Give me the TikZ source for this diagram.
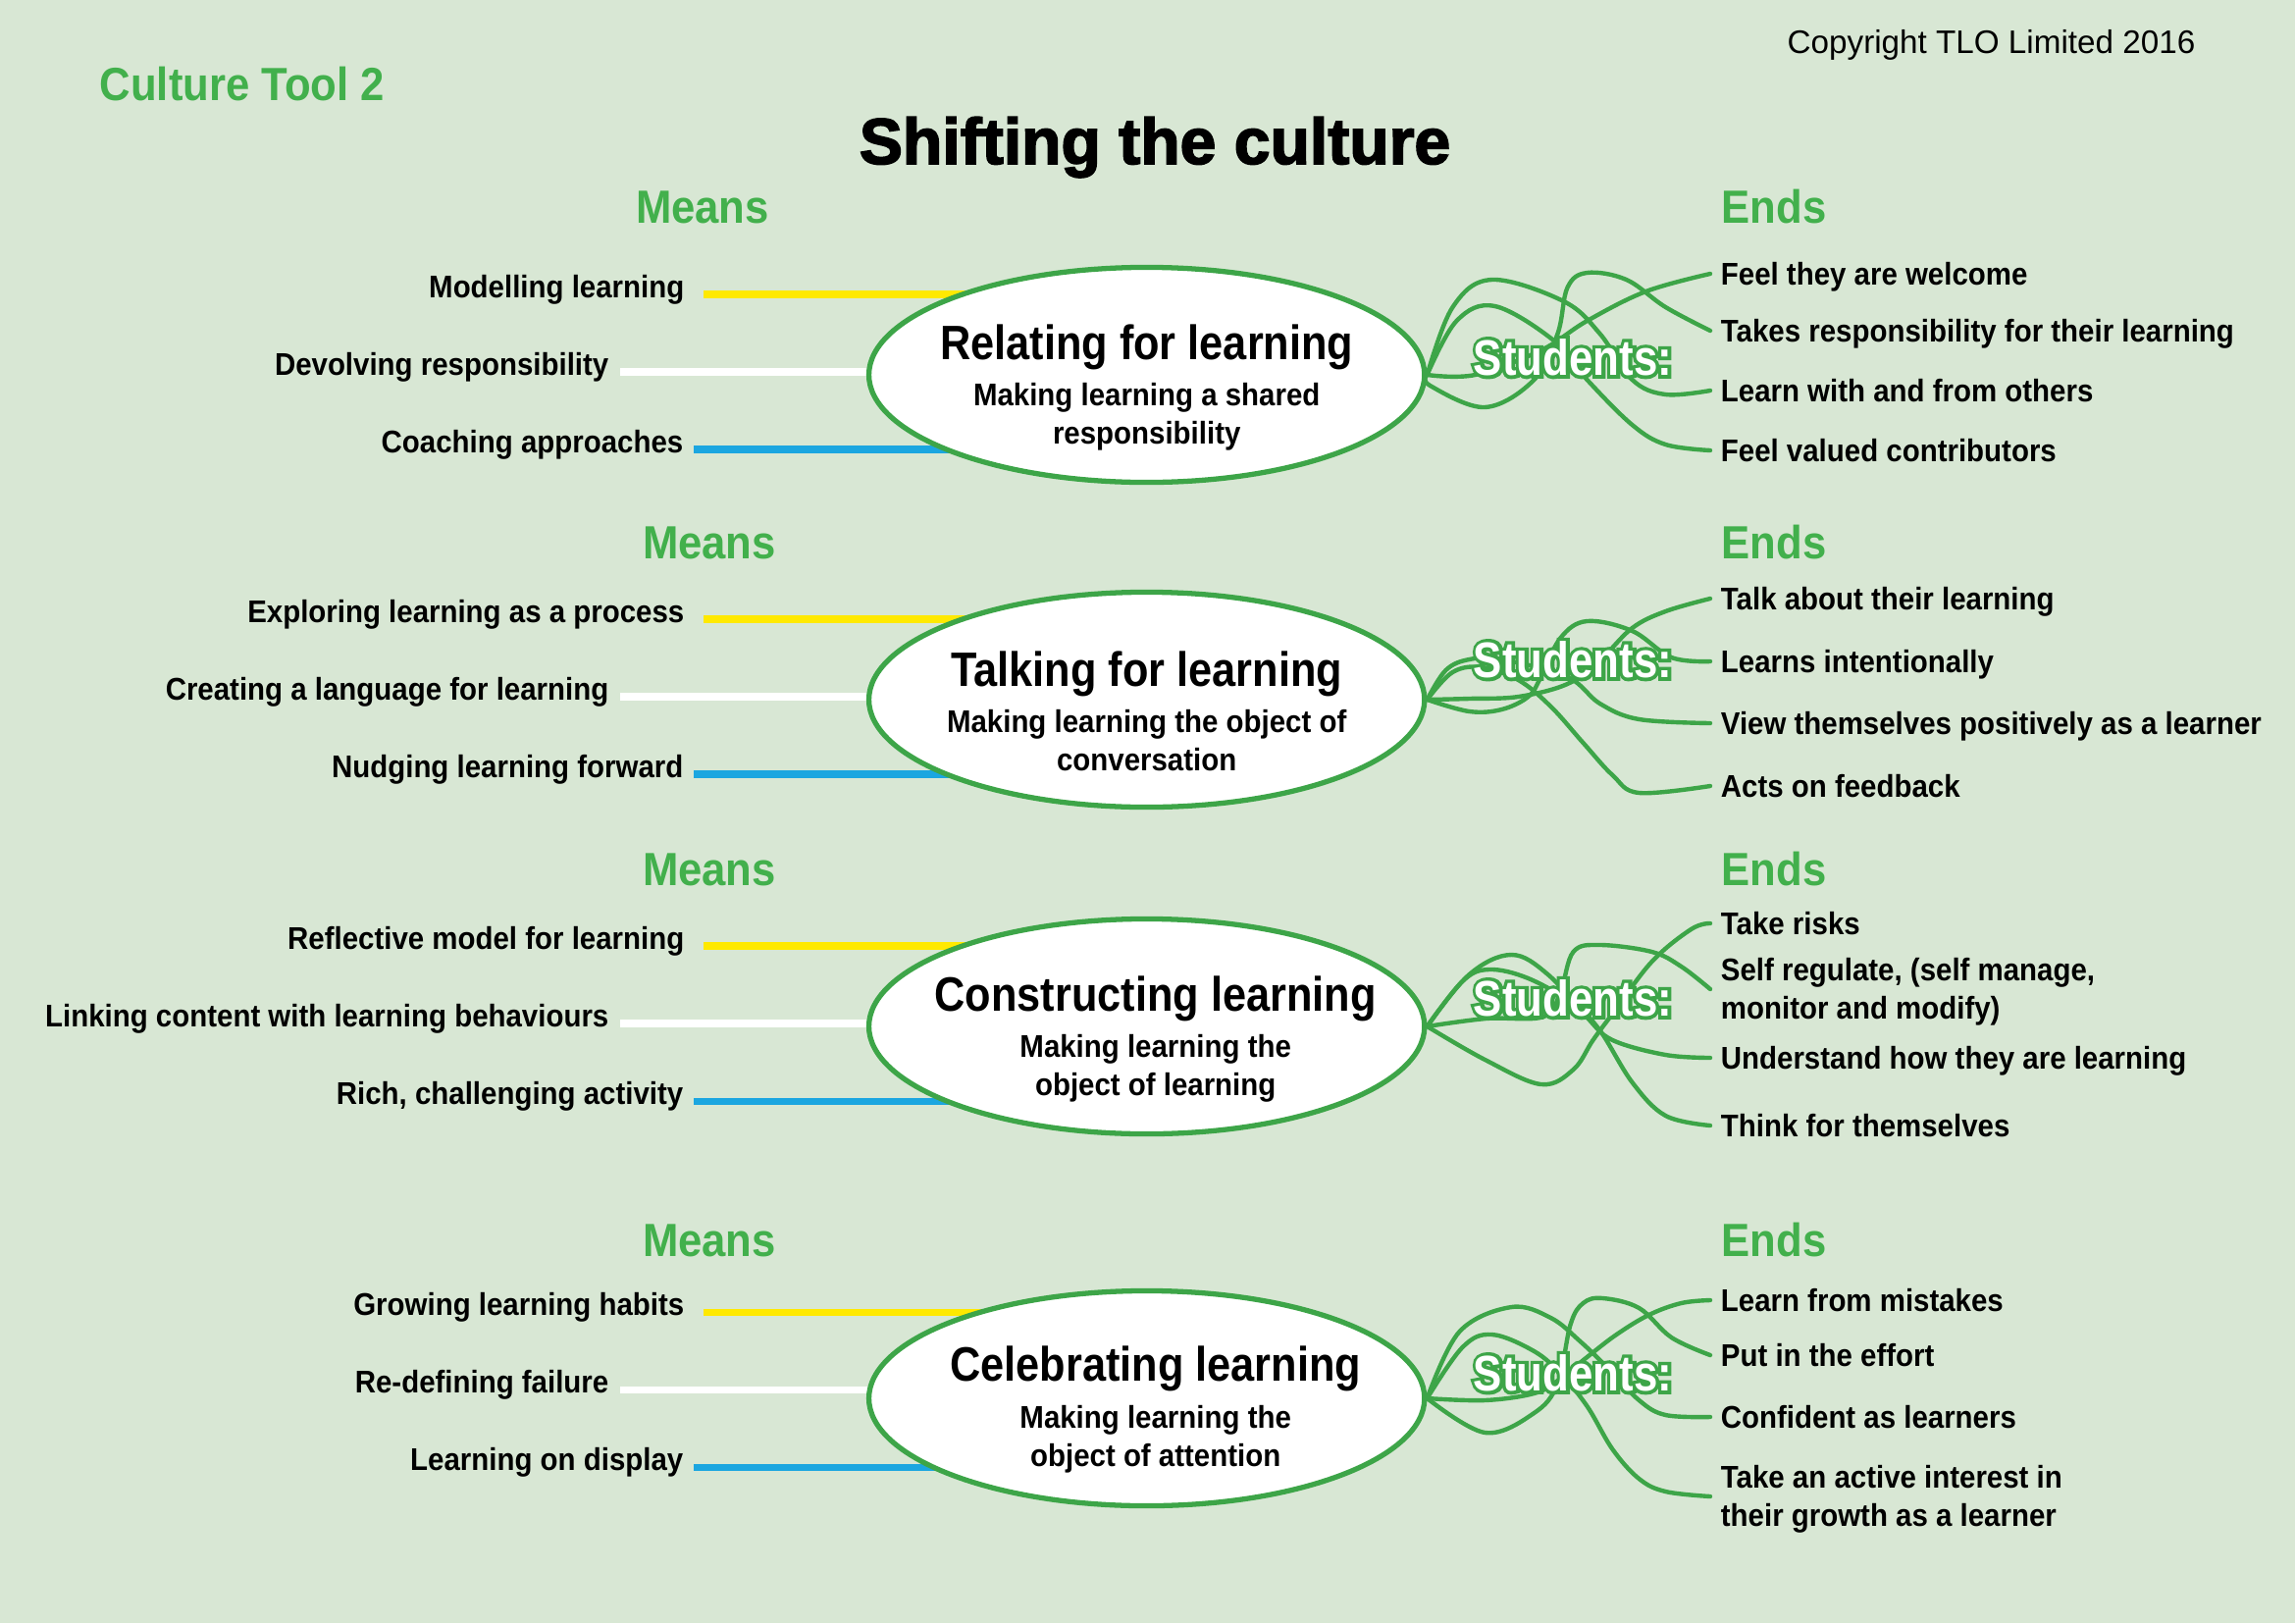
\documentclass[tikz,border=0pt]{standalone}
\usepackage{fontspec}
\setmainfont{Liberation Sans}
\newfontfamily\cnd{Liberation Sans}[FakeStretch=0.92]
\newfontfamily\cndb{Liberation Sans}[FakeStretch=0.88]
\newfontfamily\ttl{Liberation Sans Bold}[FakeBold=2.5]
\newfontfamily\studA{Liberation Sans Bold}[FakeStretch=0.86]
\newfontfamily\studB{Liberation Sans Bold}[FakeStretch=0.86, FakeBold=14]
\usetikzlibrary{shapes.geometric,calc}
\pgfdeclarelayer{back}
\pgfsetlayers{back,main}
\definecolor{bg}{HTML}{D8E7D4}
\definecolor{tgreen}{HTML}{3DA548}
\definecolor{hgreen}{HTML}{42B04C}
\definecolor{ylw}{HTML}{FFE900}
\definecolor{blu}{HTML}{1BA6E0}
\tikzset{
  lbl/.style={inner sep=0pt, font=\cnd\bfseries\fontsize{9.1}{11.1}\selectfont, text height=6.5pt, text depth=0pt},
  twoline/.style={text height=17.6pt},
  meansitem/.style={lbl, anchor=base east},
  enditem/.style={lbl, anchor=west, align=left, outer xsep=3.1pt},
  head/.style={inner sep=0pt, anchor=base, font=\cnd\bfseries\fontsize{13.5}{16}\selectfont, text=hgreen},
  ell/.style={ellipse, draw=tgreen, line width=1.5pt, fill=white, minimum width=56.6mm, minimum height=21.9mm, inner sep=0pt},
  etitle/.style={inner sep=0pt, font=\cndb\bfseries\fontsize{14}{16}\selectfont, text height=10pt, text depth=0pt},
  esub/.style={lbl, twoline, align=center},
  studout/.style={inner sep=0pt, font=\studB\fontsize{14.5}{16}\selectfont, text=tgreen, text height=10.4pt, text depth=0pt},
  studin/.style={inner sep=0pt, font=\studA\fontsize{14.5}{16}\selectfont, text=white, text height=10.4pt, text depth=0pt},
  ylwline/.style={draw=ylw, line width=2pt},
  whtline/.style={draw=white, line width=2pt},
  bluline/.style={draw=blu, line width=2pt},
  crv/.style={draw=tgreen, line width=1.25pt, line cap=round},
}
\begin{document}
\begin{tikzpicture}[x=0.01cm,y=-0.01cm]
\useasboundingbox (0,0) rectangle (2339,1654);
% header
\node[inner sep=0pt, anchor=base east, font=\fontsize{9.45}{11}\selectfont] (copy) at (2238,54) {Copyright TLO Limited 2016};
\node[head, anchor=base west] (ct) at (101,102) {Culture Tool 2};
\node[inner sep=0pt, anchor=base, font=\ttl\fontsize{18.8}{22}\selectfont] (title) at (1177,167) {Shifting the culture};
% headers
\node[head] (mh1) at (716,227) {Means};
\node[head] (mh2) at (723,569) {Means};
\node[head] (mh3) at (723,902) {Means};
\node[head] (mh4) at (723,1280) {Means};
\node[head, anchor=base west] (eh1) at (1754,227) {Ends};
\node[head, anchor=base west] (eh2) at (1754,569) {Ends};
\node[head, anchor=base west] (eh3) at (1754,902) {Ends};
\node[head, anchor=base west] (eh4) at (1754,1280) {Ends};
% ellipses
\node[ell] (e1) at (1168.7,382) {};
\node[ell] (e2) at (1168.7,713) {};
\node[ell] (e3) at (1168.7,1046) {};
\node[ell] (e4) at (1168.7,1425) {};
\node[etitle] (t1) at ($(e1.center)+(0,-33)$) {Relating for learning};
\node[esub] (s1) at ($(e1.center)+(0,40)$) {Making learning a shared\\responsibility};
\node[etitle] (t2) at ($(e2.center)+(0,-31)$) {Talking for learning};
\node[esub] (s2) at ($(e2.center)+(0,42)$) {Making learning the object of\\conversation};
\node[etitle] (t3) at ($(e3.center)+(9,-33)$) {Constructing learning};
\node[esub] (s3) at ($(e3.center)+(9,40)$) {Making learning the\\object of learning};
\node[etitle] (t4) at ($(e4.center)+(9,-35)$) {Celebrating learning};
\node[esub] (s4) at ($(e4.center)+(9,39)$) {Making learning the\\object of attention};
% means items
\node[meansitem] (m11) at (698,303) {Modelling learning};
\node[meansitem] (m12) at (621,382) {Devolving responsibility};
\node[meansitem] (m13) at (697,461) {Coaching approaches};
\node[meansitem] (m21) at (698,634) {Exploring learning as a process};
\node[meansitem] (m22) at (621,713) {Creating a language for learning};
\node[meansitem] (m23) at (697,792) {Nudging learning forward};
\node[meansitem] (m31) at (698,967) {Reflective model for learning};
\node[meansitem] (m32) at (621,1046) {Linking content with learning behaviours};
\node[meansitem] (m33) at (697,1125) {Rich, challenging activity};
\node[meansitem] (m41) at (698,1340) {Growing learning habits};
\node[meansitem] (m42) at (621,1419) {Re-defining failure};
\node[meansitem] (m43) at (697,1498) {Learning on display};
% end items
\node[enditem] (r11) at (1743,279) {Feel they are welcome};
\node[enditem] (r12) at (1743,337) {Takes responsibility for their learning};
\node[enditem] (r13) at (1743,398) {Learn with and from others};
\node[enditem] (r14) at (1743,459) {Feel valued contributors};
\node[enditem] (r21) at (1743,610) {Talk about their learning};
\node[enditem] (r22) at (1743,674) {Learns intentionally};
\node[enditem] (r23) at (1743,737) {View themselves positively as a learner};
\node[enditem] (r24) at (1743,801) {Acts on feedback};
\node[enditem] (r31) at (1743,941) {Take risks};
\node[enditem, twoline] (r32) at (1743,1008) {Self regulate, (self manage,\\monitor and modify)};
\node[enditem] (r33) at (1743,1078) {Understand how they are learning};
\node[enditem] (r34) at (1743,1147) {Think for themselves};
\node[enditem] (r41) at (1743,1325) {Learn from mistakes};
\node[enditem] (r42) at (1743,1381) {Put in the effort};
\node[enditem] (r43) at (1743,1444) {Confident as learners};
\node[enditem, twoline] (r44) at (1743,1525) {Take an active interest in\\their growth as a learner};
% students (green outline copy under a white copy)
\node[studout] (so1) at (1603,364) {Students:};
\node[studin] (st1) at (so1.center) {Students:};
\node[studout] (so2) at (1603,672) {Students:};
\node[studin] (st2) at (so2.center) {Students:};
\node[studout] (so3) at (1603,1017) {Students:};
\node[studin] (st3) at (so3.center) {Students:};
\node[studout] (so4) at (1603,1399) {Students:};
\node[studin] (st4) at (so4.center) {Students:};
\begin{pgfonlayer}{back}
\fill[bg] (0,0) rectangle (2339,1654);
% means lines
\draw[ylwline] ($(m11.base east)+(19,-3)$) coordinate (a11) -- (a11 -| e1.center);
\draw[whtline] ($(m12.base east)+(11,-3)$) coordinate (a12) -- (a12 -| e1.center);
\draw[bluline] ($(m13.base east)+(10,-3)$) coordinate (a13) -- (a13 -| e1.center);
\draw[ylwline] ($(m21.base east)+(19,-3)$) coordinate (a21) -- (a21 -| e2.center);
\draw[whtline] ($(m22.base east)+(11,-3)$) coordinate (a22) -- (a22 -| e2.center);
\draw[bluline] ($(m23.base east)+(10,-3)$) coordinate (a23) -- (a23 -| e2.center);
\draw[ylwline] ($(m31.base east)+(19,-3)$) coordinate (a31) -- (a31 -| e3.center);
\draw[whtline] ($(m32.base east)+(11,-3)$) coordinate (a32) -- (a32 -| e3.center);
\draw[bluline] ($(m33.base east)+(10,-3)$) coordinate (a33) -- (a33 -| e3.center);
\draw[ylwline] ($(m41.base east)+(19,-3)$) coordinate (a41) -- (a41 -| e4.center);
\draw[whtline] ($(m42.base east)+(11,-3)$) coordinate (a42) -- (a42 -| e4.center);
\draw[bluline] ($(m43.base east)+(10,-3)$) coordinate (a43) -- (a43 -| e4.center);
% curves block 1
\begin{scope}[shift={(e1.east)}]
\draw[crv] plot[smooth,tension=0.6] coordinates {(0,0) (49,0) (116,-25) (163,-55) (223,-85) (r11.west)};
\draw[crv] plot[smooth,tension=0.6] coordinates {(0,0) (3,11) (59,33) (109,5) (133,-42) (143,-89) (163,-104) (203,-97) (243,-69) (r12.west)};
\draw[crv] plot[smooth,tension=0.6] coordinates {(0,0) (26,-69) (66,-97) (139,-75) (176,-42) (209,5) (243,20) (r13.west)};
\draw[crv] plot[smooth,tension=0.6] coordinates {(0,0) (30,-55) (69,-70) (129,-35) (163,5) (209,51) (243,71) (r14.west)};
\end{scope}
% curves block 2
\begin{scope}[shift={(e2.east)}]
\draw[crv] plot[smooth,tension=0.6] coordinates {(0,0) (43,-1) (93,-3) (143,-16) (176,-40) (209,-73) (243,-90) (r21.west)};
\draw[crv] plot[smooth,tension=0.6] coordinates {(0,0) (43,12) (76,10) (103,-3) (116,-23) (136,-63) (163,-80) (209,-70) (249,-43) (r22.west)};
\draw[crv] plot[smooth,tension=0.6] coordinates {(0,0) (19,-30) (43,-41) (76,-41) (143,-23) (176,4) (216,20) (r23.west)};
\draw[crv] plot[smooth,tension=0.6] coordinates {(0,0) (26,-28) (56,-33) (93,-20) (126,7) (159,44) (189,77) (216,95) (r24.west)};
\end{scope}
% curves block 3
\begin{scope}[shift={(e3.east)}]
\draw[crv] plot[smooth,tension=0.6] coordinates {(0,0) (59,34) (116,59) (149,44) (169,14) (189,-13) (229,-66) (269,-99) (r31.west)};
\draw[crv] plot[smooth,tension=0.6] coordinates {(0,0) (60,-8) (119,-10) (136,-36) (149,-76) (176,-83) (229,-76) (259,-61) (r32.west)};
\draw[crv] plot[smooth,tension=0.6] coordinates {(0,0) (43,-53) (86,-73) (123,-53) (163,-9) (189,14) (243,29) (r33.west)};
\draw[crv] plot[smooth,tension=0.6] coordinates {(0,0) (36,-46) (63,-58) (103,-49) (149,-23) (176,4) (209,57) (243,91) (r34.west)};
\end{scope}
% curves block 4
\begin{scope}[shift={(e4.east)}]
\draw[crv] plot[smooth,tension=0.6] coordinates {(0,0) (59,2) (109,-5) (133,-18) (163,-42) (193,-65) (226,-85) (259,-97) (r41.west)};
\draw[crv] plot[smooth,tension=0.6] coordinates {(0,0) (59,35) (109,15) (133,-15) (146,-75) (159,-97) (179,-102) (216,-92) (249,-62) (r42.west)};
\draw[crv] plot[smooth,tension=0.6] coordinates {(0,0) (33,-68) (86,-93) (126,-82) (156,-58) (183,-32) (216,2) (243,17) (r43.west)};
\draw[crv] plot[smooth,tension=0.6] coordinates {(0,0) (36,-52) (66,-65) (109,-48) (136,-25) (163,8) (189,52) (216,82) (243,95) (r44.west)};
\end{scope}
\end{pgfonlayer}
\end{tikzpicture}
\end{document}
